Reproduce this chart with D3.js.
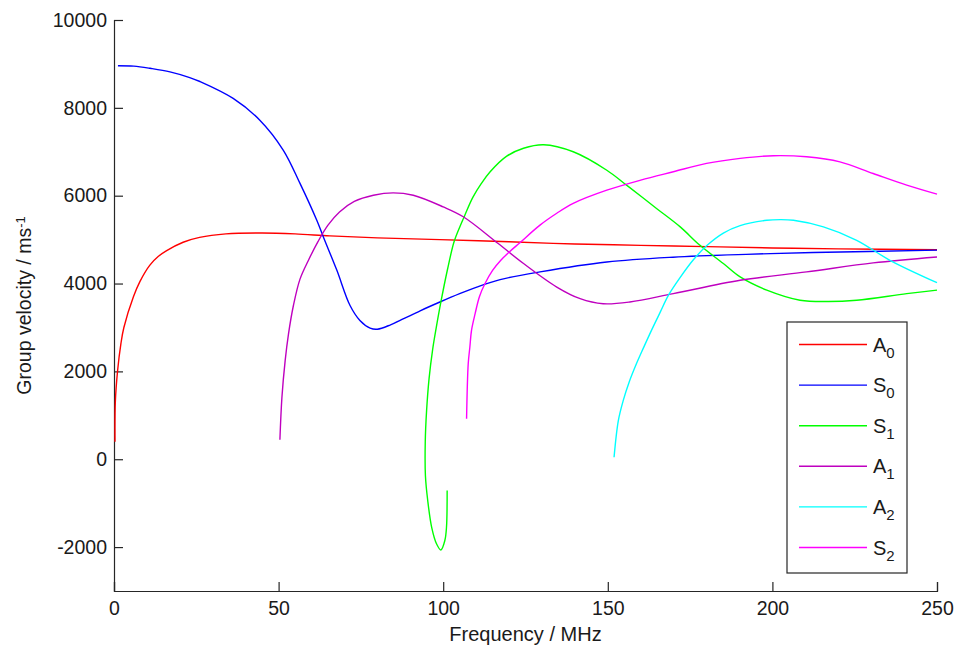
<!DOCTYPE html>
<html>
<head>
<meta charset="utf-8">
<script src="https://cdn.jsdelivr.net/npm/d3@7"></script>
<style>
  html, body { margin: 0; padding: 0; background: #fff; }
  svg { display: block; font-family: "Liberation Sans", Arial, sans-serif; }
</style>
</head>
<body>
<svg id="chart" width="960" height="652"></svg>
<script>
// Lamb-wave dispersion: group velocity of the lowest plate modes
const xTicks = [0, 50, 100, 150, 200, 250];
const yTicks = [-2000, 0, 2000, 4000, 6000, 8000, 10000];

const a0Freq = [0.3, 0.4, 1.1, 2.1, 3.0, 5.9, 7.9, 10.9, 13.5, 16, 21, 26, 34, 45, 55, 65.6, 80, 99, 120, 140, 160, 180, 200, 220, 250];
const a0Vel  = [400, 1300, 2020, 2630, 3000, 3700, 4050, 4420, 4620, 4750, 4940, 5050, 5130, 5150, 5130, 5085, 5040, 5000, 4950, 4900, 4870, 4840, 4810, 4790, 4770];

const s0Freq = [1.2, 6, 11, 17, 23, 26.1, 36.2, 44.3, 51.4, 56.5, 61.6, 63.6, 67.7, 71.7, 74.7, 77.8, 80, 84, 88, 93, 99, 105, 110.2, 117.3, 129.4, 149.7, 169.8, 192, 212.4, 250];
const s0Vel  = [8960, 8950, 8900, 8820, 8690, 8600, 8215, 7720, 7040, 6280, 5440, 5060, 4300, 3500, 3160, 2985, 2960, 3060, 3200, 3380, 3580, 3770, 3920, 4090, 4265, 4490, 4600, 4665, 4705, 4760];

// S1 bends back in frequency near its cut-off, so points follow the curve
const s1Freq = [101.2, 101.0, 100.5, 99.3, 98.0, 96.5, 95.3, 94.6, 94.55, 94.95, 95.7, 96.8, 97.9, 99.3, 101.3, 103.3, 105.1, 106.6, 109.0, 111.7, 114.2, 119.3, 124.4, 130.5, 139.5, 149.7, 155.7, 164.8, 172, 178, 185.1, 190.2, 198.3, 208.4, 217, 225.6, 240.8, 250];
const s1Vel  = [-714, -1550, -1850, -2065, -1930, -1550, -940, -375, 400, 1100, 1830, 2500, 3000, 3580, 4320, 4950, 5300, 5560, 5960, 6290, 6540, 6900, 7080, 7160, 7000, 6580, 6240, 5710, 5290, 4870, 4455, 4150, 3850, 3620, 3590, 3620, 3770, 3850];

const a1Freq = [50.4, 51, 52, 53, 54.5, 56.5, 59, 62, 65, 68.5, 73, 78.8, 84.8, 90.9, 100, 106.1, 116.7, 124.4, 134.5, 141.6, 148.6, 156.7, 169.9, 190.2, 210.4, 230.6, 250];
const a1Vel  = [442, 1400, 2250, 2850, 3500, 4100, 4520, 4960, 5330, 5630, 5870, 6010, 6065, 6010, 5745, 5520, 4910, 4455, 3920, 3655, 3540, 3580, 3770, 4075, 4265, 4470, 4605];

const a2Freq = [151.9, 153.2, 154.7, 156.5, 158.5, 160.8, 163.3, 166, 168.4, 172, 176, 180, 185.1, 190.2, 198.3, 202.4, 206.4, 215.5, 225.6, 235.7, 250];
const a2Vel  = [45, 880, 1340, 1760, 2140, 2530, 2940, 3360, 3730, 4140, 4540, 4860, 5150, 5320, 5440, 5455, 5440, 5290, 4985, 4530, 4020];

const s2Freq = [107.1, 107.6, 108.1, 108.6, 109.7, 111, 112.7, 115, 117.5, 119.8, 123.3, 129.4, 134.5, 139.5, 149.7, 160, 169.9, 180, 190.2, 200.3, 210.4, 220.5, 230.6, 240.8, 250];
const s2Vel  = [920, 2175, 2555, 2935, 3315, 3700, 4000, 4300, 4530, 4700, 4930, 5330, 5600, 5825, 6125, 6355, 6545, 6735, 6850, 6910, 6885, 6770, 6505, 6240, 6035];

const modeNames  = ["A", "S", "S", "A", "A", "S"];
const modeOrders = ["0", "0", "1", "1", "2", "2"];
const modeColors = ["#ff0000", "#0000ff", "#00ff00", "#bf00bf", "#00ffff", "#ff00ff"];
const modeFreqs  = [a0Freq, s0Freq, s1Freq, a1Freq, a2Freq, s2Freq];
const modeVels   = [a0Vel, s0Vel, s1Vel, a1Vel, a2Vel, s2Vel];

const svg = d3.select("#chart");
const plotLeft = 114, plotRight = 937, plotTop = 20, plotBottom = 591;
const textColor = "#1a1a1a";
const axisColor = "#262626";

const x = d3.scaleLinear().domain([0, 250]).range([plotLeft, plotRight]);
const y = d3.scaleLinear().domain([-3000, 10000]).range([plotBottom, plotTop]);

// plain hyphen for negatives
const plainNumber = d => String(d);

// axes with inward ticks, no box
const xAxis = svg.append("g")
  .attr("transform", `translate(0,${plotBottom})`)
  .call(d3.axisBottom(x).tickValues(xTicks).tickSize(-9).tickPadding(19).tickFormat(plainNumber));
const yAxis = svg.append("g")
  .attr("transform", `translate(${plotLeft},0)`)
  .call(d3.axisLeft(y).tickValues(yTicks).tickSize(-9).tickPadding(16).tickFormat(plainNumber));

[xAxis, yAxis].forEach(g => {
  g.select(".domain").attr("stroke", axisColor).attr("stroke-width", 1.2);
  g.selectAll(".tick line").attr("stroke", axisColor).attr("stroke-width", 1.2);
  g.selectAll(".tick text")
    .attr("fill", textColor)
    .style("font-family", '"Liberation Sans", Arial, sans-serif')
    .style("font-size", "19.5px");
});
xAxis.selectAll(".tick text").attr("dy", "0.35em").attr("y", 17);
yAxis.selectAll(".tick text").attr("x", -7);

// axis titles
svg.append("text")
  .attr("x", (plotLeft + plotRight) / 2)
  .attr("y", 641)
  .attr("text-anchor", "middle")
  .attr("fill", textColor)
  .style("font-size", "20px")
  .text("Frequency / MHz");

const yLabel = svg.append("text")
  .attr("transform", `translate(31,${(plotTop + plotBottom) / 2}) rotate(-90)`)
  .attr("text-anchor", "middle")
  .attr("fill", textColor)
  .style("font-size", "19.5px");
yLabel.append("tspan").text("Group velocity / ms");
yLabel.append("tspan").attr("dy", "-0.5em").style("font-size", "13px").text("-1");

// mode curves
const line = d3.line()
  .x(d => x(d[0]))
  .y(d => y(d[1]))
  .curve(d3.curveCatmullRom.alpha(0.5));

const plot = svg.append("g");
modeFreqs.forEach((fr, i) => {
  const pts = fr.map((f, k) => [f, modeVels[i][k]]);
  plot.append("path")
    .datum(pts)
    .attr("fill", "none")
    .attr("stroke", modeColors[i])
    .attr("stroke-width", 1.4)
    .attr("stroke-linejoin", "round")
    .attr("d", line);
});

// legend
const legend = svg.append("g");
legend.append("rect")
  .attr("x", 787).attr("y", 322)
  .attr("width", 120).attr("height", 251)
  .attr("fill", "#fff")
  .attr("stroke", axisColor)
  .attr("stroke-width", 1.2);

modeNames.forEach((name, i) => {
  const ly = 344.5 + i * 40.6;
  legend.append("line")
    .attr("x1", 799).attr("x2", 867)
    .attr("y1", ly).attr("y2", ly)
    .attr("stroke", modeColors[i])
    .attr("stroke-width", 1.4);
  const t = legend.append("text")
    .attr("x", 873).attr("y", ly + 7)
    .attr("fill", textColor)
    .style("font-size", "20px");
  t.append("tspan").text(name);
  t.append("tspan").attr("dy", "6").style("font-size", "15px").text(modeOrders[i]);
});
</script>
</body>
</html>
